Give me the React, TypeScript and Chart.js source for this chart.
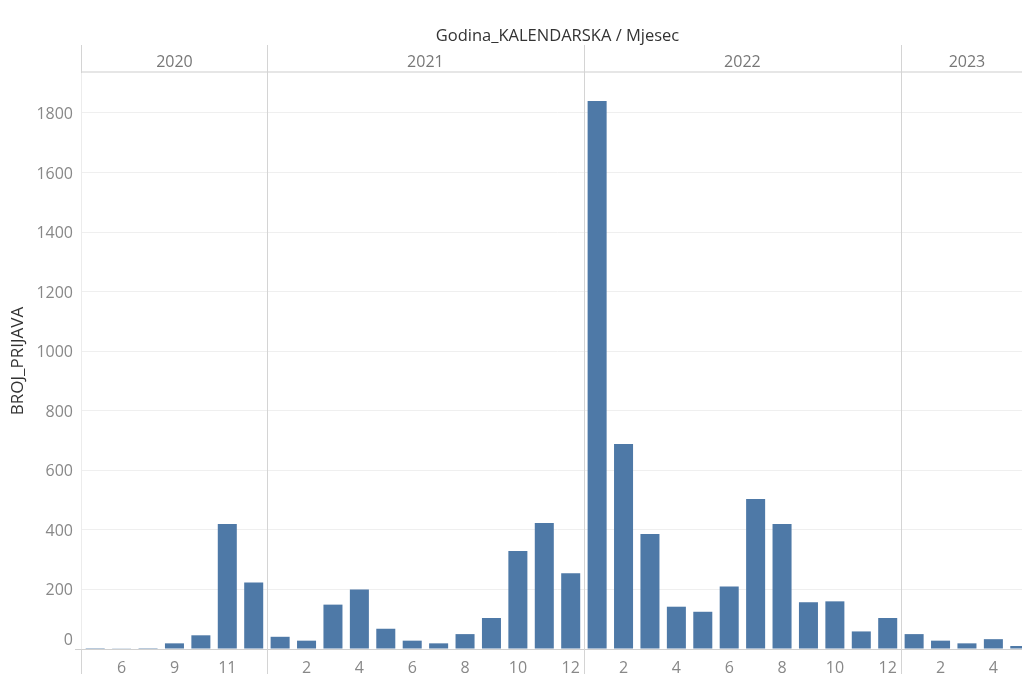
import React, { useEffect, useRef } from 'react';
import { Chart, registerables } from 'chart.js';

Chart.register(...registerables);

const chartTitle = 'Godina_KALENDARSKA / Mjesec';
const yAxisTitle = 'BROJ_PRIJAVA';
const yearLabels = ['2020', '2021', '2022', '2023'];
const months2020 = ['3', '6', '8', '9', '10', '11', '12'];
const months2021 = ['1', '2', '3', '4', '5', '6', '7', '8', '9', '10', '11', '12'];
const months2022 = ['1', '2', '3', '4', '5', '6', '7', '8', '9', '10', '11', '12'];
const months2023 = ['1', '2', '3', '4', '5'];
const values2020 = [3, 1, 3, 19, 46, 420, 223];
const values2021 = [41, 28, 149, 200, 68, 28, 19, 50, 104, 329, 423, 254];
const values2022 = [1840, 688, 386, 142, 125, 210, 504, 420, 157, 160, 59, 104];
const values2023 = [50, 28, 19, 33, 10];
const yTickStep = 200;
const yMax = 1934;

const monthGroups = [months2020, months2021, months2022, months2023];
const categories: string[] = [];
const showLabel: boolean[] = [];
const groupSizes: number[] = [];
monthGroups.forEach((g, gi) => {
  groupSizes.push(g.length);
  g.forEach((m, i) => {
    categories.push(yearLabels[gi] + '-' + m);
    showLabel.push(i % 2 === 1);
  });
});
const monthLabels = ([] as string[]).concat(...monthGroups);
const values = [...values2020, ...values2021, ...values2022, ...values2023];

const FONT = '"Open Sans", "DejaVu Sans", sans-serif';
const TICK_COLOR = '#888888';

const headerPlugin = {
  id: 'tableauHeader',
  afterDraw(chart: any) {
    const { ctx, chartArea, scales } = chart;
    const xs = scales.x;
    const ys = scales.y;
    const left = chartArea.left;
    const right = chartArea.right;
    const top = chartArea.top;
    const bottom = chartArea.bottom;
    const H = chart.height;
    ctx.save();
    // title
    ctx.fillStyle = '#333333';
    ctx.font = '16.5px ' + FONT;
    ctx.textAlign = 'center';
    ctx.textBaseline = 'middle';
    ctx.fillText(chartTitle, (left + right) / 2, 36);
    // header bottom band
    ctx.fillStyle = '#e6e6e6';
    ctx.fillRect(left, top - 2, right - left, 2);
    // zero line
    const y0 = Math.round(ys.getPixelForValue(0));
    ctx.fillStyle = '#d0d0d0';
    ctx.fillRect(left - 7, y0, right - left + 7, 1);
    // separators
    const half = (xs.getPixelForValue(1) - xs.getPixelForValue(0)) / 2;
    const bounds: number[] = [left];
    let idx = 0;
    groupSizes.forEach((n) => {
      idx += n;
      const b = xs.getPixelForValue(idx - 1) + half;
      bounds.push(b);
    });
    ctx.fillStyle = '#d4d4d4';
    ctx.fillRect(Math.round(left) - 1, 45, 1, top - 45);
    ctx.fillRect(Math.round(left) - 1, bottom, 1, H - bottom);
    ctx.fillStyle = '#ececec';
    ctx.fillRect(Math.round(left) - 1, top, 1, bottom - top);
    ctx.fillStyle = '#d4d4d4';
    for (let i = 1; i < bounds.length - 1; i++) {
      ctx.fillRect(Math.round(bounds[i]), 45, 1, H - 45);
    }
    // year labels
    ctx.fillStyle = '#777777';
    ctx.font = '16px ' + FONT;
    for (let i = 0; i < yearLabels.length; i++) {
      ctx.fillText(yearLabels[i], (bounds[i] + bounds[i + 1]) / 2, 62);
    }
    // zero label (shifted up like the reference)
    ctx.fillStyle = TICK_COLOR;
    ctx.textAlign = 'right';
    ctx.fillText('0', left - 9, y0 - 9);
    ctx.restore();
  },
};

export default function App() {
  const ref = useRef<HTMLCanvasElement | null>(null);
  useEffect(() => {
    const prevMargin = document.body.style.margin;
    document.body.style.margin = '0';
    if (!ref.current) return;
    const chart = new Chart(ref.current, {
      type: 'bar',
      data: {
        labels: categories,
        datasets: [
          {
            data: values,
            backgroundColor: '#4e79a7',
            borderWidth: 0,
            barPercentage: 0.72,
            categoryPercentage: 1,
          },
        ],
      },
      options: {
        responsive: false,
        animation: false,
        devicePixelRatio: 1,
        layout: { padding: { top: 73, left: 0, right: 0, bottom: 0 } },
        plugins: { legend: { display: false }, tooltip: { enabled: false }, title: { display: false } },
        scales: {
          x: {
            grid: { display: false, drawTicks: false },
            border: { display: false },
            ticks: {
              autoSkip: false,
              maxRotation: 0,
              minRotation: 0,
              padding: 10,
              color: TICK_COLOR,
              font: { size: 16, family: FONT },
              callback: (_v: any, i: number) => (showLabel[i] ? monthLabels[i] : ''),
            },
            afterFit: (s: any) => {
              s.height = 25;
            },
          },
          y: {
            min: 0,
            max: yMax,
            grid: {
              drawTicks: false,
              color: (c: any) => (c.tick && c.tick.value === 0 ? 'rgba(0,0,0,0)' : '#efefef'),
            },
            border: { display: false },
            ticks: {
              stepSize: yTickStep,
              includeBounds: false,
              padding: 9,
              labelOffset: 1.5,
              color: TICK_COLOR,
              font: { size: 16, family: FONT },
              callback: (v: any) => (v === 0 ? '' : String(v)),
            },
            title: {
              display: true,
              text: yAxisTitle,
              color: '#333333',
              font: { size: 17, family: FONT },
              padding: { top: 8, bottom: 0 },
            },
            afterFit: (s: any) => {
              s.width = 82;
            },
          },
        },
      },
      plugins: [headerPlugin],
    });
    return () => {
      chart.destroy();
      document.body.style.margin = prevMargin;
    };
  }, []);
  return (
    <div style={{ position: 'fixed', left: 0, top: 0, width: 1022, height: 674, overflow: 'hidden', background: '#fff' }}>
      <canvas ref={ref} width={1033} height={674} style={{ display: 'block', width: 1033, height: 674 }} />
    </div>
  );
}
